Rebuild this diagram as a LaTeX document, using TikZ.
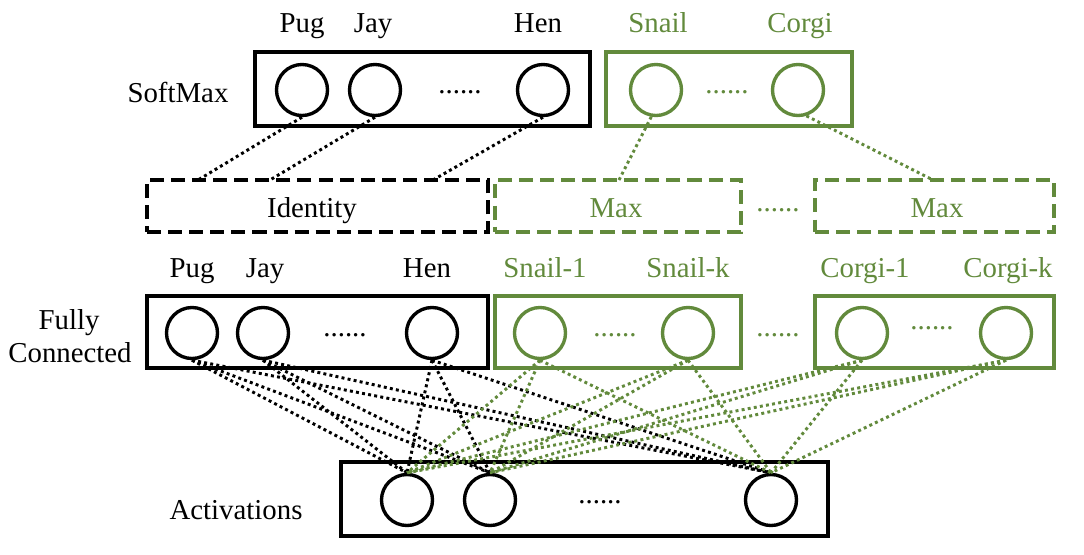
\documentclass[tikz,border=0pt]{standalone}
\usepackage{fontspec}
\setmainfont{Liberation Serif}
\usetikzlibrary{fit}
\definecolor{grn}{RGB}{98,138,60}
\begin{document}
\begin{tikzpicture}[x=0.025cm,y=-0.025cm,
  every node/.style={font=\fontsize{20.5}{24}\selectfont},
  box/.style={draw,line width=2.6pt,inner sep=0pt},
  dbox/.style={draw,line width=2.4pt,dash pattern=on 10pt off 5pt,inner sep=0pt},
  neuron/.style={draw,circle,line width=2.4pt,minimum size=1.275cm,inner sep=0pt},
  conn/.style={line width=2.1pt,dash pattern=on 2.1pt off 2.3pt},
  lbl/.style={anchor=base},
  dots/.style={inner sep=0pt},
]
\useasboundingbox (0,0) rectangle (1084,554);

% ---------- SoftMax row ----------
\node[lbl] (tPug) at (302,32) {Pug};
\node[lbl] (tJay) at (373,32) {Jay};
\node[lbl] (tHen) at (538,32) {Hen};
\node[lbl,grn] (tSnail) at (658,32) {Snail};
\node[lbl,grn] (tCorgi) at (800,32) {Corgi};
\node (tSoft) at (178,92) {SoftMax};

\node[box,fit={(255,52) (590,126)}] (smA) {};
\node[box,grn,fit={(606,52) (852,126)}] (smB) {};
\node[neuron] (sa) at (302,90) {};
\node[neuron] (sb) at (375,90) {};
\node[neuron] (sc) at (543,90) {};
\node[dots] (sd1) at (460,92) {......};
\node[neuron,grn] (sg1) at (656,90) {};
\node[neuron,grn] (sg2) at (798,90) {};
\node[dots,grn] (sd2) at (727,92) {......};

% ---------- Identity / Max row ----------
\node[dbox,fit={(147,180) (488,232)}] (idb) {};
\node[dbox,grn,fit={(495,180) (741,232)}] (mx1) {};
\node[dbox,grn,fit={(815,180) (1054,232)}] (mx2) {};
\node[lbl] (tId) at (312,217) {Identity};
\node[lbl,grn] (tMx1) at (616,217) {Max};
\node[lbl,grn] (tMx2) at (937,217) {Max};
\node[dots,grn] (md) at (778,210) {......};

\coordinate (ia) at (198,180);
\coordinate (ib) at (270,180);
\coordinate (ic) at (433,180);
\coordinate (ma) at (619,180);
\coordinate (mb) at (933,180);
\draw[conn] (sa.south) -- (ia);
\draw[conn] (sb.south) -- (ib);
\draw[conn] (sc.south) -- (ic);
\draw[conn,grn] (sg1.-100) -- (ma);
\draw[conn,grn] (sg2.-72) -- (mb);

% ---------- Fully connected row ----------
\node[lbl] (fPug) at (192,277) {Pug};
\node[lbl] (fJay) at (265,277) {Jay};
\node[lbl] (fHen) at (427,277) {Hen};
\node[lbl,grn] (fS1) at (545,277) {Snail-1};
\node[lbl,grn] (fSk) at (688,277) {Snail-k};
\node[lbl,grn] (fC1) at (865,277) {Corgi-1};
\node[lbl,grn] (fCk) at (1008,277) {Corgi-k};
\node[lbl] (tFully) at (69,329) {Fully};
\node[lbl] (tConn) at (70,362) {Connected};

\node[box,fit={(147,296) (488,368)}] (fcA) {};
\node[box,grn,fit={(495,296) (741,368)}] (fcB) {};
\node[box,grn,fit={(815,296) (1054,368)}] (fcC) {};
\node[neuron] (fa) at (192,333) {};
\node[neuron] (fb) at (263,333) {};
\node[neuron] (fc) at (432,333) {};
\node[dots] (fd1) at (345,335) {......};
\node[neuron,grn] (ga) at (540,333) {};
\node[neuron,grn] (gb) at (688,333) {};
\node[dots,grn] (fd2) at (615,335) {......};
\node[dots,grn] (fd3) at (778,335) {......};
\node[neuron,grn] (gc) at (862,333) {};
\node[neuron,grn] (gd) at (1006,333) {};
\node[dots,grn] (fd4) at (932,328) {......};

% ---------- Activations ----------
\node (tAct) at (236,510) {Activations};
\node[box,fit={(341,462) (828,536)}] (act) {};
\node[neuron] (aa) at (407,500) {};
\node[neuron] (ab) at (490,500) {};
\node[neuron] (ac) at (771,500) {};
\node[dots] (ad) at (600,502) {......};

\foreach \s in {fa,fb,fc}
  \foreach \t in {aa,ab,ac}
    \draw[conn] (\s.south) -- (\t.north);
\foreach \s in {ga,gb,gc,gd}
  \foreach \t in {aa,ab,ac}
    \draw[conn,grn] (\s.south) -- (\t.north);
\end{tikzpicture}
\end{document}
